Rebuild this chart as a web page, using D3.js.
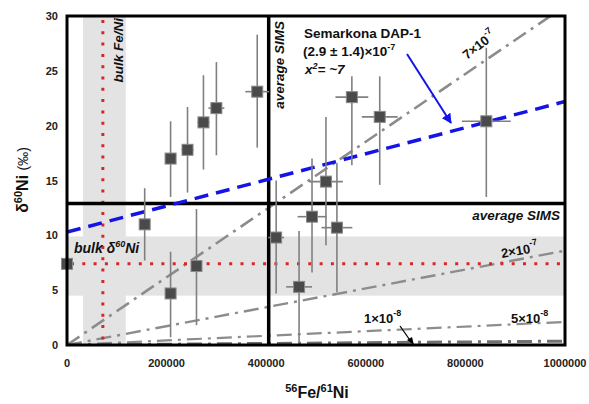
<!DOCTYPE html>
<html>
<head>
<meta charset="utf-8">
<script src="https://cdn.jsdelivr.net/npm/d3@7"></script>
<style>
  body { margin: 0; background: #fff; }
  text { font-family: "Liberation Sans", Arial, sans-serif; }
</style>
</head>
<body>
<div id="chart"></div>
<script>
// measured points: 56Fe/61Ni, delta60Ni and their error bars
const feNi   = [0, 156000, 208000, 242000, 274000, 300000, 382000, 208000, 260000, 420000, 466000, 492000, 542000, 572000, 628000, 842000, 520000];
const d60    = [7.4, 11.0, 17.0, 17.8, 20.3, 21.6, 23.1, 4.7, 7.2, 9.8, 5.3, 11.7, 10.7, 22.6, 20.8, 20.4, 14.9];
const d60Lo  = [4.2, 7.7, 13.5, 13.9, 16.0, 17.3, 18.0, 0.7, 1.8, 4.7, 0, 6.6, 4.8, 16.4, 14.6, 13.5, 9.1];
const d60Hi  = [10.0, 14.3, 20.4, 21.7, 24.6, 25.8, 28.3, 8.5, 12.4, 15.0, 10.4, 17.0, 16.6, 24.5, 24.5, 27.1, 20.8];
const feNiErr = [0, 0, 4000, 12000, 12000, 16000, 24000, 0, 0, 16000, 26000, 29000, 31000, 33000, 36000, 49000, 34000];

// reference isochrons: label and delta60Ni reached at Fe/Ni = 1e6 (from origin)
const isoMant = ["7", "2", "5", "1"];
const isoExp  = ["-7", "-7", "-8", "-8"];
const isoEnd  = [30.9, 8.6, 2.1, 0.35];

// Semarkona DAP-1 fit line: delta at Fe/Ni = 0 and 1e6
const fitEnds = [10.3, 22.2];

const bulkFeNi = 72000, bulkFeNiBand = [32000, 118000];
const bulkD60 = 7.4, bulkD60Band = [4.5, 9.9];
const avgFeNi = 405000, avgD60 = 12.9;

const xTicks = [0, 200000, 400000, 600000, 800000, 1000000];
const yTicks = [0, 5, 10, 15, 20, 25, 30];

const width = 589, height = 404;
const margin = { left: 67, top: 16, right: 24, bottom: 59 };

const svg = d3.select('#chart').append('svg')
  .attr('width', width).attr('height', height);

const x = d3.scaleLinear().domain([0, 1000000]).range([margin.left, width - margin.right]);
const y = d3.scaleLinear().domain([0, 30]).range([height - margin.bottom, margin.top]);

svg.append('clipPath').attr('id', 'clip')
  .append('rect')
  .attr('x', x(0)).attr('y', y(30))
  .attr('width', x(1000000) - x(0)).attr('height', y(0) - y(30));

const plot = svg.append('g').attr('clip-path', 'url(#clip)');

// grey bulk bands
plot.append('rect')
  .attr('x', x(0)).attr('width', x(1000000) - x(0))
  .attr('y', y(bulkD60Band[1])).attr('height', y(bulkD60Band[0]) - y(bulkD60Band[1]))
  .attr('fill', '#e3e3e3');
plot.append('rect')
  .attr('x', x(bulkFeNiBand[0])).attr('width', x(bulkFeNiBand[1]) - x(bulkFeNiBand[0]))
  .attr('y', y(30)).attr('height', y(0) - y(30))
  .attr('fill', '#e3e3e3');

// isochrons
const isoStyle = [
  { c: '#8c8c8c', w: 2.6, dash: '15,6,3,6' },
  { c: '#8c8c8c', w: 2.4, dash: '15,6,3,6' },
  { c: '#8c8c8c', w: 2.2, dash: '15,6,3,6' },
  { c: '#707070', w: 3, dash: '15,6,3,6' }
];
isoEnd.forEach((v, i) => {
  plot.append('line')
    .attr('x1', x(0)).attr('y1', y(0))
    .attr('x2', x(1000000)).attr('y2', y(v))
    .attr('stroke', isoStyle[i].c)
    .attr('stroke-width', isoStyle[i].w)
    .attr('stroke-dasharray', isoStyle[i].dash);
});

// red bulk dotted lines
plot.append('line')
  .attr('x1', x(bulkFeNi)).attr('x2', x(bulkFeNi))
  .attr('y1', y(30) + 4).attr('y2', y(0))
  .attr('stroke', '#d62728').attr('stroke-width', 3).attr('stroke-dasharray', '3,8.3');
plot.append('line')
  .attr('x1', x(0) + 4).attr('x2', x(1000000))
  .attr('y1', y(bulkD60)).attr('y2', y(bulkD60))
  .attr('stroke', '#d62728').attr('stroke-width', 3).attr('stroke-dasharray', '3,8.3');

// average SIMS lines
plot.append('line')
  .attr('x1', x(avgFeNi)).attr('x2', x(avgFeNi))
  .attr('y1', y(30)).attr('y2', y(0))
  .attr('stroke', '#000').attr('stroke-width', 3.5);
plot.append('line')
  .attr('x1', x(0)).attr('x2', x(1000000))
  .attr('y1', y(avgD60)).attr('y2', y(avgD60))
  .attr('stroke', '#000').attr('stroke-width', 3.5);

// fit line
plot.append('line')
  .attr('x1', x(0)).attr('y1', y(fitEnds[0]))
  .attr('x2', x(1000000)).attr('y2', y(fitEnds[1]))
  .attr('stroke', '#1414e6').attr('stroke-width', 3.5)
  .attr('stroke-dasharray', '14,8');

// error bars
const pts = feNi.map((v, i) => ({ fx: v, d: d60[i], lo: d60Lo[i], hi: d60Hi[i], xe: feNiErr[i] }));
const eb = svg.append('g').attr('stroke', '#808080').attr('stroke-width', 1.6);
eb.selectAll('.v').data(pts).enter().append('line')
  .attr('x1', d => x(d.fx)).attr('x2', d => x(d.fx))
  .attr('y1', d => y(d.lo)).attr('y2', d => y(d.hi));
eb.selectAll('.h').data(pts.filter(d => d.xe > 0)).enter().append('line')
  .attr('x1', d => x(d.fx - d.xe)).attr('x2', d => x(d.fx + d.xe))
  .attr('y1', d => y(d.d)).attr('y2', d => y(d.d));

// squares
svg.append('g').selectAll('rect').data(pts).enter().append('rect')
  .attr('x', d => x(d.fx) - 5.5).attr('y', d => y(d.d) - 5.5)
  .attr('width', 11).attr('height', 11)
  .attr('fill', '#4a4a4a').attr('stroke', '#8a8a8a').attr('stroke-width', 1);

// frame
svg.append('rect')
  .attr('x', x(0)).attr('y', y(30))
  .attr('width', x(1000000) - x(0)).attr('height', y(0) - y(30))
  .attr('fill', 'none').attr('stroke', '#000').attr('stroke-width', 3);

// ticks
svg.append('g').selectAll('text').data(yTicks).enter().append('text')
  .attr('x', 58).attr('y', d => y(d) + 4)
  .attr('text-anchor', 'end').attr('font-size', 11).attr('font-weight', 'bold').attr('fill', '#222')
  .text(d => d);
svg.append('g').selectAll('text').data(xTicks).enter().append('text')
  .attr('x', d => x(d)).attr('y', 367)
  .attr('text-anchor', 'middle').attr('font-size', 11).attr('font-weight', 'bold').attr('fill', '#222')
  .text(d => d);

// axis titles
const xt = svg.append('text').attr('x', 317).attr('y', 398)
  .attr('text-anchor', 'middle').attr('font-weight', 'bold').attr('font-size', 16).attr('fill', '#111');
xt.append('tspan').attr('font-size', 11).attr('dy', -6).text('56');
xt.append('tspan').attr('dy', 6).text('Fe/');
xt.append('tspan').attr('font-size', 11).attr('dy', -6).text('61');
xt.append('tspan').attr('dy', 6).text('Ni');

const yt = svg.append('text').attr('transform', 'translate(28,180) rotate(-90)')
  .attr('text-anchor', 'middle').attr('font-weight', 'bold').attr('font-size', 16).attr('fill', '#111');
yt.append('tspan').text('δ');
yt.append('tspan').attr('font-size', 11).attr('dy', -6).text('60');
yt.append('tspan').attr('dy', 6).text('Ni ');
yt.append('tspan').attr('font-size', 14).attr('font-weight', 'normal').text('(‰)');

// annotations
const bi = (sel, fs) => sel.attr('font-weight', 'bold').attr('font-style', 'italic').attr('font-size', fs).attr('fill', '#111');
bi(svg.append('text').attr('transform', `translate(${x(avgFeNi) + 15},${y(30) + 5}) rotate(-90)`)
  .attr('text-anchor', 'end'), 13.5).text('average SIMS');
bi(svg.append('text').attr('x', x(1000000) - 5).attr('y', y(avgD60) + 16)
  .attr('text-anchor', 'end'), 13.5).text('average SIMS');
bi(svg.append('text').attr('transform', `translate(${x(bulkFeNiBand[1]) - 3},${y(30) + 2}) rotate(-90)`)
  .attr('text-anchor', 'end'), 13.5).text('bulk Fe/Ni');
const bd = bi(svg.append('text').attr('x', 74).attr('y', 253), 14);
bd.append('tspan').text('bulk δ');
bd.append('tspan').attr('font-size', 9).attr('dy', -6).text('60');
bd.append('tspan').attr('dy', 6).text('Ni');

// fit legend
const lg = svg.append('g').attr('font-weight', 'bold').attr('font-size', 13.5).attr('fill', '#111');
lg.append('text').attr('x', 304).attr('y', 38).text('Semarkona DAP-1');
const l2 = lg.append('text').attr('x', 303).attr('y', 56);
l2.append('tspan').text('(2.9 ± 1.4)×10');
l2.append('tspan').attr('font-size', 9).attr('dy', -6).text('-7');
const l3 = lg.append('text').attr('x', 305).attr('y', 74).attr('font-style', 'italic');
l3.append('tspan').text('x');
l3.append('tspan').attr('font-size', 9).attr('dy', -5).text('2');
l3.append('tspan').attr('dy', 5).text('= ~7');

svg.append('defs').append('marker').attr('id', 'ab')
  .attr('viewBox', '0 0 10 10').attr('refX', 9).attr('refY', 5)
  .attr('markerWidth', 5).attr('markerHeight', 5).attr('orient', 'auto')
  .append('path').attr('d', 'M0,0L10,5L0,10z').attr('fill', '#1414e6');
svg.append('line').attr('x1', 407).attr('y1', 54).attr('x2', 451).attr('y2', 123)
  .attr('stroke', '#1414e6').attr('stroke-width', 2).attr('marker-end', 'url(#ab)');

// isochron labels
const isoLab = [
  { tx: 467, ty: 60, r: -38 },
  { tx: 502, ty: 258, r: -10 },
  { tx: 511, ty: 323, r: 0 },
  { tx: 364, ty: 323, r: 0 }
];
isoMant.forEach((m, i) => {
  const t = svg.append('text')
    .attr('transform', `translate(${isoLab[i].tx},${isoLab[i].ty}) rotate(${isoLab[i].r})`)
    .attr('font-weight', 'bold').attr('font-size', 13).attr('fill', '#111');
  t.append('tspan').text(m + '×10');
  t.append('tspan').attr('font-size', 9).attr('dy', -7).text(isoExp[i]);
});
svg.append('line').attr('x1', 400).attr('y1', 326).attr('x2', 412).attr('y2', 343)
  .attr('stroke', '#000').attr('stroke-width', 1.3);
svg.append('path').attr('d', 'M414,345 L407,340 L412,337 Z').attr('fill', '#000');
</script>
</body>
</html>
